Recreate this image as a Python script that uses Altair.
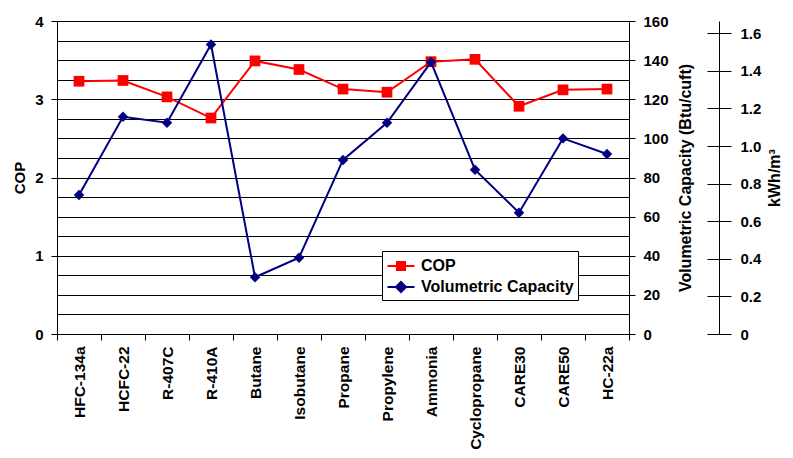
import altair as alt
import pandas as pd

refrigerants = ["HFC-134a", "HCFC-22", "R-407C", "R-410A", "Butane", "Isobutane",
                "Propane", "Propylene", "Ammonia", "Cyclopropane", "CARE30", "CARE50", "HC-22a"]
cop = [3.23, 3.24, 3.03, 2.76, 3.49, 3.38, 3.13, 3.09, 3.48, 3.51, 2.91, 3.12, 3.13]
vol_capacity = [71, 111, 108, 148, 29, 39, 89, 108, 139, 84, 62, 100, 92]
series_names = ["COP", "Volumetric Capacity"]
series_colors = ["#FF0000", "#000080"]
# legend symbols: a line segment plus a (stroke-filled) marker
legend_symbols = [
    "M-1.35,0H1.35M-0.4,-0.4H0.4V0.4H-0.4ZM-0.25,-0.25H0.25V0.25H-0.25ZM-0.1,-0.1H0.1V0.1H-0.1Z",
    "M-1.35,0H1.35M-0.5,0L0,-0.5L0.5,0L0,0.5ZM-0.35,0L0,-0.35L0.35,0L0,0.35ZM-0.2,0L0,-0.2L0.2,0L0,0.2Z",
]
cop_grid_values = [0, 0.25, 0.5, 0.75, 1, 1.25, 1.5, 1.75, 2, 2.25, 2.5, 2.75, 3, 3.25, 3.5, 3.75, 4]
vol_ticks = [0, 20, 40, 60, 80, 100, 120, 140, 160]
kwh_ticks = [0, 0.2, 0.4, 0.6, 0.8, 1.0, 1.2, 1.4, 1.6]
BTU_PER_KWH_M3 = 96.62

FONT = "Liberation Sans"

df = pd.DataFrame({"Refrigerant": refrigerants, "COP": cop, "Vol": vol_capacity})
base = alt.Chart(df)

xscale = alt.Scale(type="band", paddingInner=0, paddingOuter=0)
x_enc = alt.X("Refrigerant:N", sort=refrigerants, scale=xscale,
              axis=alt.Axis(title=None, labelAngle=-90, labelAlign="right", labelBaseline="middle",
                            tickBand="extent", labelFontSize=15.5, tickSize=6, labelPadding=6))

cop_scale = alt.Scale(domain=[0, 4], nice=False)
vol_scale = alt.Scale(domain=[0, 160], nice=False)
kwh_scale = alt.Scale(domain=[0, 1.665], nice=False)

legend_props = dict(
    title=None, orient="none", legendX=325, legendY=230,
    fillColor="white", strokeColor="black", padding=4,
    labelFontSize=16, labelFontWeight="bold", labelColor="black", labelFont=FONT,
    symbolSize=400, symbolStrokeWidth=2, symbolOffset=4, labelOffset=9, rowPadding=2,
)

cop_line = base.mark_line(color="#FF0000", strokeWidth=2).encode(
    x=x_enc,
    y=alt.Y("COP:Q", scale=cop_scale,
            axis=alt.Axis(orient="left", values=cop_grid_values, grid=True, gridColor="black", gridWidth=1,
                          tickOpacity={"condition": {"test": "datum.value % 1 === 0", "value": 1}, "value": 0},
                          labelExpr="datum.value % 1 === 0 ? format(datum.value, 'd') : ''",
                          labelOverlap=False, tickSize=6, labelPadding=8, labelFontSize=15,
                          title="COP", titleFontSize=15, titlePadding=7)),
)
cop_pts = base.mark_point(shape="square", filled=True, size=115, opacity=1, color="#FF0000").encode(
    x=x_enc, y=alt.Y("COP:Q", scale=cop_scale, axis=None))

vol_line = base.mark_line(color="#000080", strokeWidth=2).encode(
    x=x_enc,
    y=alt.Y("Vol:Q", scale=vol_scale,
            axis=alt.Axis(orient="right", values=vol_ticks, grid=False, tickSize=6, labelPadding=8,
                          labelFontSize=15, title="Volumetric Capacity (Btu/cuft)", titleFontSize=16,
                          titleAngle=270, titleBaseline="top", titlePadding=9)),
)
vol_pts = base.mark_point(shape="diamond", filled=True, size=110, opacity=1, color="#000080").encode(
    x=x_enc, y=alt.Y("Vol:Q", scale=vol_scale, axis=None))

kwh_axis = base.mark_point(opacity=0).transform_calculate(kWh=f"datum.Vol / {BTU_PER_KWH_M3}").encode(
    x=x_enc,
    y=alt.Y("kWh:Q", scale=kwh_scale,
            axis=alt.Axis(orient="right", offset=90, values=kwh_ticks,
                          labelExpr="datum.value === 0 ? '0' : format(datum.value, '.1f')",
                          tickSize=12, labelPadding=9, labelFontSize=15,
                          title="kWh/m³", titleFontSize=16, titleAngle=270, titleBaseline="top",
                          titlePadding=6)),
)
kwh_ticks_left = base.mark_point(opacity=0).transform_calculate(kWh=f"datum.Vol / {BTU_PER_KWH_M3}").encode(
    x=x_enc,
    y=alt.Y("kWh:Q", scale=kwh_scale,
            axis=alt.Axis(orient="left", offset=-662, values=kwh_ticks, labels=False, domain=False,
                          tickSize=12, title=None, grid=False)),
)

# invisible layer that only carries the legend (line + marker symbols)
legend_layer = base.mark_point(filled=False, opacity=0).transform_fold(
    ["COP", "Vol"], as_=["key", "val"]
).transform_calculate(
    series="datum.key === 'COP' ? 'COP' : 'Volumetric Capacity'"
).encode(
    x=x_enc,
    y=alt.Y("val:Q", scale=vol_scale, axis=None),
    color=alt.Color("series:N", scale=alt.Scale(domain=series_names, range=series_colors),
                    legend=alt.Legend(**legend_props)),
    shape=alt.Shape("series:N", scale=alt.Scale(domain=series_names, range=legend_symbols),
                    legend=alt.Legend(**legend_props)),
)

chart = alt.layer(cop_line, cop_pts, vol_line, vol_pts, kwh_axis, kwh_ticks_left, legend_layer).resolve_scale(
    y="independent"
).properties(
    width=572, height=313,
    autosize=alt.AutoSizeParams(type="none"),
    padding={"left": 49, "top": 13, "right": 156, "bottom": 116},
).configure_view(stroke=None).configure_axis(
    labelFont=FONT, titleFont=FONT, labelFontWeight="bold", titleFontWeight="bold",
    labelColor="black", titleColor="black", domainColor="black", tickColor="black",
    domainWidth=1, tickWidth=1,
)

chart.save("out.html", embed_options={"renderer": "svg", "actions": False})
